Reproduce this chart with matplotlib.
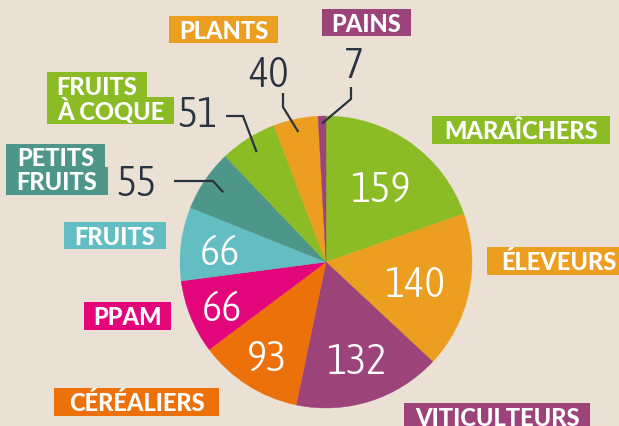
import matplotlib
matplotlib.use("Agg")
import matplotlib.pyplot as plt
from matplotlib.patches import Rectangle
from matplotlib import font_manager as fm
import numpy as np

# ---------------- data ----------------
categories = ["MARAÎCHERS", "ÉLEVEURS", "VITICULTEURS", "CÉRÉALIERS", "PPAM",
              "FRUITS", "PETITS\nFRUITS", "FRUITS\nÀ COQUE", "PLANTS", "PAINS"]
values = [159, 140, 132, 93, 66, 66, 55, 51, 40, 7]
colors = ["#8BBC26", "#EB9E1F", "#9C4379", "#EC710B", "#E2067A",
          "#62BEC2", "#4E958A", "#8BBC26", "#EB9E1F", "#9C4379"]

# ---------------- layout (pixel coordinates, y downward) ----------------
W, H = 619, 427
CX, CY, R = 326, 263, 146
BG = "#EAE1D4"
DARK = "#2B3240"

inside_frac = {0: 0.64, 1: 0.62, 2: 0.69, 3: 0.75, 4: 0.77, 5: 0.73}
outside = {
    6: dict(text=(137, 181), path=[(174, 182), (213, 182)], frac=0.85),
    7: dict(text=(198, 112), path=[(226, 117), (243, 117)], frac=0.89),
    8: dict(text=(269, 72), path=[(283, 94), (283, 108)], frac=0.91),
    9: dict(text=(354, 63), path=[(351, 88), (351, 100)], frac=0.95),
}
# label boxes: list of (x0, y0, x1, y1) per text line
boxes = {
    0: [(432, 117, 610, 145)],
    1: [(487, 248, 630, 276)],
    2: [(404, 404, 590, 432)],
    3: [(54, 389, 219, 417)],
    4: [(84, 303, 171, 331)],
    5: [(64, 223, 166, 250)],
    6: [(6, 145, 105, 170), (6, 168, 108, 196)],
    7: [(47, 73, 147, 100), (47, 98, 174, 125)],
    8: [(169, 17, 278, 44)],
    9: [(322, 10, 411, 37)],
}

# ---------------- font selection ----------------
ttf = [f for f in fm.fontManager.ttflist if f.style == "normal"]


def wnum(w):
    if isinstance(w, int):
        return w
    return fm.weight_dict.get(str(w), 400)


def is_condensed(f):
    n = f.name.lower()
    return ("condensed" in n or "narrow" in n or
            str(f.stretch) in ("condensed", "semi-condensed", "extra-condensed",
                               "ultra-condensed") or
            (isinstance(f.stretch, int) and f.stretch < 500) or
            "condensed" in f.fname.lower() or "narrow" in f.fname.lower())


cond = [f for f in ttf if is_condensed(f) and wnum(f.weight) <= 400]
if cond:
    cond.sort(key=lambda f: (abs(wnum(f.weight) - 300)))
    num_fp = fm.FontProperties(fname=cond[0].fname)
    NUM_PT = 31
else:
    light = [f for f in ttf if f.name == "Roboto" and wnum(f.weight) <= 300]
    if light:
        light.sort(key=lambda f: -wnum(f.weight))
        num_fp = fm.FontProperties(fname=light[0].fname)
    else:
        num_fp = fm.FontProperties(family="Roboto")
    NUM_PT = 27

heavy = None
for fam in ["Montserrat", "Lato", "Open Sans", "Inter", "Roboto", "Noto Sans"]:
    cands = [f for f in ttf if f.name == fam and not is_condensed(f)]
    if cands:
        best = max(cands, key=lambda f: wnum(f.weight))
        if heavy is None or wnum(best.weight) > wnum(heavy.weight):
            heavy = best
lab_fp = fm.FontProperties(fname=heavy.fname) if heavy else fm.FontProperties(weight="bold")
LAB_PT = 17

px = 100 / 72.0


def Y(y):
    return H - y


fig = plt.figure(figsize=(W / 100, H / 100), dpi=100, facecolor=BG)
ax = fig.add_axes([0, 0, 1, 1])
ax.set_facecolor(BG)

wedges, _ = ax.pie(values, colors=colors, startangle=90, counterclock=False,
                   center=(CX, Y(CY)), radius=R,
                   wedgeprops=dict(linewidth=0.3))
for w, c in zip(wedges, colors):
    w.set_edgecolor(c)
ax.set_xlim(0, W)
ax.set_ylim(0, H)
ax.set_aspect("equal")
ax.axis("off")


def mid_point(i, frac):
    w = wedges[i]
    a = np.deg2rad((w.theta1 + w.theta2) / 2)
    return CX + frac * R * np.cos(a), Y(CY) + frac * R * np.sin(a)


num_cap = 0.716 * NUM_PT * px
for i, f in inside_frac.items():
    x, y = mid_point(i, f)
    ax.text(x, y - num_cap / 2, str(values[i]), color="white", fontsize=NUM_PT,
            fontproperties=num_fp, ha="center", va="baseline")

for i, o in outside.items():
    tx, ty = o["text"]
    ax.text(tx, Y(ty) - num_cap / 2, str(values[i]), color=DARK, fontsize=NUM_PT,
            fontproperties=num_fp, ha="center", va="baseline")
    xs = [p[0] for p in o["path"]]
    ys = [Y(p[1]) for p in o["path"]]
    ex, ey = mid_point(i, o["frac"])
    xs.append(ex)
    ys.append(ey)
    ax.plot(xs, ys, color=DARK, lw=1.6, solid_capstyle="butt", solid_joinstyle="miter")

lab_cap = 0.714 * LAB_PT * px
for i, rects in boxes.items():
    lines = categories[i].split("\n")
    for line, (x0, y0, x1, y1) in zip(lines, rects):
        ax.add_patch(Rectangle((x0, Y(y1)), x1 - x0, y1 - y0, facecolor=colors[i],
                               edgecolor="none", zorder=3))
        t = ax.text((x0 + x1) / 2, Y((y0 + y1) / 2) - lab_cap / 2, line, color="white",
                    fontproperties=lab_fp, ha="center", va="baseline", zorder=4)
        t.set_fontsize(LAB_PT)

fig.savefig("out.png", dpi=100, facecolor=BG)
